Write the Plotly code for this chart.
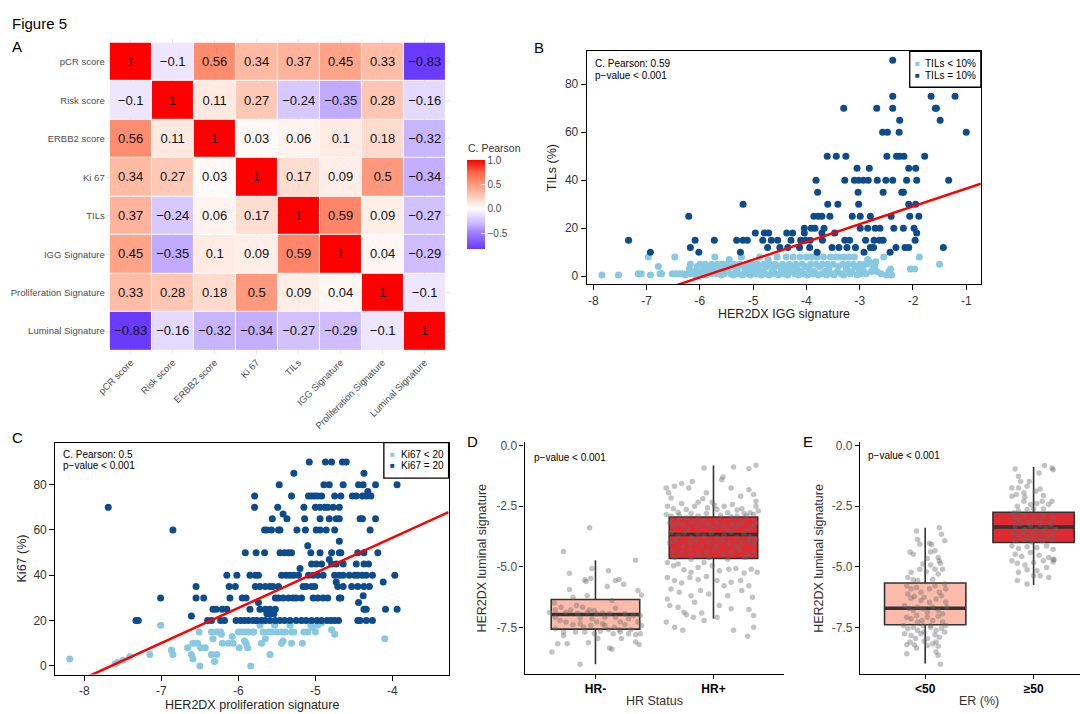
import plotly.graph_objects as go

W, H = 1080, 714

def fx(px):
    return px / W

def fy(py):
    return 1 - py / H

FONT = "Liberation Sans, Arial, sans-serif"

# A. correlation heatmap
variables = ["pCR score", "Risk score", "ERBB2 score", "Ki 67", "TILs",
             "IGG Signature", "Proliferation Signature", "Luminal Signature"]
corr = [
    [1, -0.1, 0.56, 0.34, 0.37, 0.45, 0.33, -0.83],
    [-0.1, 1, 0.11, 0.27, -0.24, -0.35, 0.28, -0.16],
    [0.56, 0.11, 1, 0.03, 0.06, 0.1, 0.18, -0.32],
    [0.34, 0.27, 0.03, 1, 0.17, 0.09, 0.5, -0.34],
    [0.37, -0.24, 0.06, 0.17, 1, 0.59, 0.09, -0.27],
    [0.45, -0.35, 0.1, 0.09, 0.59, 1, 0.04, -0.29],
    [0.33, 0.28, 0.18, 0.5, 0.09, 0.04, 1, -0.1],
    [-0.83, -0.16, -0.32, -0.34, -0.27, -0.29, -0.1, 1],
]
cbar_ticks = [-0.5, 0, 0.5, 1]
cbar_labels = ["\u22120.5", "0.0", "0.5", "1.0"]

# B. TILs vs IGG signature
tils_low = [(-7.84,0.5),(-7.53,0.5),(-7.16,1),(-7.1,1),(-6.97,8),(-6.93,0.5),(-6.78,4),(-6.75,1),(-6.72,1),(-6.52,1),
    (-6.47,8),(-6.45,1),(-6.38,1),(-6.32,1),(-6.28,0.5),(-6.22,1),(-6.2,3),(-6.18,5),(-6.15,1),(-6.1,2),(-6.08,0.5),
    (-6.05,4),(-6.02,1),(-6.0,5),(-5.97,2),(-5.95,1),(-5.92,3),(-5.9,5),(-5.88,0.5),(-5.85,2),(-5.82,4),(-5.8,1),
    (-5.78,5),(-5.75,3),(-5.72,8),(-5.7,1),(-5.68,5),(-5.65,2),(-5.62,4),(-5.6,0.5),(-5.58,5),(-5.55,1),(-5.52,3),
    (-5.5,5),(-5.48,2),(-5.45,7),(-5.42,1),(-5.4,4),(-5.38,0.5),(-5.35,5),(-5.32,2),(-5.3,3),(-5.28,1),(-5.25,5),
    (-5.22,8),(-5.2,0.5),(-5.18,4),(-5.15,2),(-5.12,5),(-5.1,1),(-5.08,3),(-5.05,0.5),(-5.02,5),(-5.0,2),(-4.98,4),
    (-4.95,1),(-4.92,5),(-4.9,3),(-4.88,8),(-4.85,0.5),(-4.82,2),(-4.8,5),(-4.78,1),(-4.75,4),(-4.72,7),(-4.7,0.5),
    (-4.68,5),(-4.65,2),(-4.62,3),(-4.6,1),(-4.58,5),(-4.55,8),(-4.52,0.5),(-4.5,4),(-4.48,2),(-4.45,5),(-4.42,1),
    (-4.4,3),(-4.38,8),(-4.35,0.5),(-4.32,5),(-4.3,2),(-4.28,4),(-4.25,8),(-4.22,1),(-4.2,5),(-4.18,3),(-4.15,0.5),
    (-4.12,8),(-4.1,2),(-4.08,5),(-4.05,1),(-4.02,4),(-4.0,8),(-3.98,0.5),(-3.95,3),(-3.92,5),(-3.9,8),(-3.88,1),
    (-3.85,2),(-3.82,5),(-3.8,8),(-3.78,0.5),(-3.75,4),(-3.72,1),(-3.7,5),(-3.68,8),(-3.65,2),(-3.62,0.5),(-3.6,5),
    (-3.58,3),(-3.55,8),(-3.52,1),(-3.5,5),(-3.48,0.5),(-3.45,8),(-3.42,2),(-3.4,4),(-3.38,8),(-3.35,1),(-3.32,5),
    (-3.3,0.5),(-3.28,8),(-3.25,3),(-3.22,5),(-3.2,8),(-3.18,1),(-3.15,2),(-3.12,5),(-3.1,8),(-3.08,4),(-3.05,0.5),
    (-3.02,3),(-3.0,5),(-2.98,1),(-2.95,4),(-2.92,2),(-2.9,5),(-2.88,1),(-2.85,7),(-2.82,6),(-2.8,5),(-2.78,2),
    (-2.75,5),(-2.72,4),(-2.7,6),(-2.68,2),(-2.6,1),(-2.55,8),(-2.5,0.5),(-2.45,2),(-2.42,3),(-2.4,0.5),(-2.05,3),
    (-1.97,3),(-1.88,8),(-1.5,5)]
tils_high = [(-7.34,15),(-6.93,10),(-6.21,25),(-6.18,12),(-6.09,15),(-6.02,10),(-5.73,15),(-5.24,10),(-5.31,15),
    (-5.19,30),(-5.19,15),(-5.11,15),(-4.96,18),(-4.82,15),(-4.79,18),(-4.71,18),(-4.73,12),(-4.66,15),(-4.54,15),
    (-4.50,12),(-4.37,18),(-4.29,15),(-4.26,18),(-4.35,12),(-4.13,12),(-4.11,15),(-4.04,20),(-4.04,18),(-4.02,15),
    (-3.94,12),(-3.93,15),(-3.91,20),(-3.86,25),(-3.84,20),(-3.82,40),(-3.79,35),(-3.78,25),(-3.80,10),(-3.71,25),
    (-3.71,18),(-3.70,15),(-3.67,20),(-3.60,30),(-3.61,50),(-3.56,25),(-3.52,12),(-3.47,18),(-3.44,50),(-3.41,30),
    (-3.39,12),(-3.30,70),(-3.28,40),(-3.28,15),(-3.26,50),(-3.24,12),(-3.19,15),(-3.14,25),(-3.08,12),(-3.10,40),
    (-3.05,45),(-3.03,35),(-3.02,30),(-3.02,40),(-2.99,25),(-2.99,20),(-2.93,40),(-2.92,10),(-2.89,15),(-2.85,20),
    (-2.84,40),(-2.82,45),(-2.80,25),(-2.80,12),(-2.74,12),(-2.73,15),(-2.68,70),(-2.67,40),(-2.71,20),(-2.63,15),
    (-2.62,20),(-2.56,35),(-2.57,60),(-2.56,15),(-2.51,40),(-2.49,50),(-2.48,60),(-2.43,10),(-2.41,25),(-2.38,90),
    (-2.38,75),(-2.38,70),(-2.38,40),(-2.36,20),(-2.32,12),(-2.31,50),(-2.26,60),(-2.25,65),(-2.25,50),(-2.21,35),
    (-2.18,35),(-2.18,20),(-2.17,50),(-2.12,40),(-2.15,12),(-2.08,45),(-2.08,30),(-2.06,25),(-2.08,12),(-1.98,20),
    (-1.95,45),(-1.95,30),(-1.93,40),(-1.93,18),(-1.89,25),(-1.78,50),(-1.66,75),(-1.58,70),(-1.56,70),(-1.49,65),
    (-1.43,12),(-1.33,40),(-1.21,75),(-1.00,60),(-1.96,15)]
fit_b = (43.9, 7.4)  # intercept, slope
b_xticks = [-8, -7, -6, -5, -4, -3, -2, -1]
b_yticks = [0, 20, 40, 60, 80]

# C. Ki67 vs proliferation signature
ki67_low = [(-8.19,3),(-7.60,1),(-7.57,1.5),(-7.50,2.5),(-7.41,4),(-7.15,5),(-7.01,18),(-6.87,7),(-6.85,5),(-6.66,8),
    (-6.61,5),(-6.59,3),(-6.51,15),(-6.59,10),(-6.53,10),(-6.50,0),(-6.49,8),(-6.43,8),(-6.35,5),(-6.31,2),(-6.28,5),
    (-6.33,12),(-6.35,15),(-6.28,15),(-6.23,15),(-6.21,10),(-6.13,10),(-6.07,10),(-6.22,14),(-6.08,13),(-5.99,8),
    (-6.00,15),(-5.96,15),(-5.91,15),(-5.87,15),(-5.82,15),(-5.92,11),(-5.90,10),(-5.88,8),(-5.84,0),(-5.80,15),
    (-5.72,18),(-5.70,10),(-5.68,15),(-5.61,15),(-5.57,15),(-5.65,12),(-5.59,5),(-5.53,18),(-5.50,15),(-5.44,15),
    (-5.39,15),(-5.44,10),(-5.42,11),(-5.33,18),(-5.31,15),(-5.28,15),(-5.31,10),(-5.17,10),(-5.15,15),(-5.10,15),
    (-5.06,18),(-5.04,17),(-5.00,15),(-4.97,18),(-4.92,19),(-4.79,16),(-4.75,14),(-4.10,12)]
ki67_high = [(-7.69,70),(-7.33,20),(-7.30,20),(-7.01,30),(-6.85,60),(-6.61,22),(-6.55,35),(-6.55,30),(-6.45,30),
    (-6.40,20),(-6.33,25),(-6.29,25),(-6.35,20),(-6.23,20),(-6.18,20),(-6.21,25),(-6.15,25),(-6.11,30),(-6.12,35),
    (-6.04,35),(-6.15,40),(-6.02,40),(-6.03,20),(-5.97,20),(-5.92,20),(-5.87,20),(-5.81,20),(-5.76,20),(-5.70,20),
    (-5.65,20),(-5.59,20),(-5.52,20),(-5.46,20),(-5.40,20),(-5.33,20),(-5.25,20),(-5.18,20),(-5.12,20),(-5.05,20),
    (-4.98,20),(-4.92,20),(-4.85,20),(-4.80,20),(-4.75,20),(-4.70,20),(-4.45,20),(-4.42,20),(-4.34,20),(-4.26,20),
    (-5.91,50),(-5.95,30),(-5.90,30),(-5.85,40),(-5.78,40),(-5.74,40),(-5.79,70),(-5.79,75),(-5.77,50),
    (-5.78,35),(-5.72,35),(-5.65,35),(-5.59,35),(-5.55,35),(-5.48,35),(-5.85,25),(-5.72,25),(-5.65,25),(-5.59,25),
    (-5.52,25),(-5.74,28),(-5.66,60),(-5.63,60),(-5.57,60),(-5.48,60),(-5.46,60),(-5.66,50),(-5.56,65),(-5.63,23),
    (-5.59,23),(-5.54,23),(-5.52,30),(-5.48,30),(-5.42,30),(-5.35,30),(-5.29,30),(-5.25,30),(-5.18,30),(-5.49,70),
    (-5.47,80),(-5.46,50),(-5.40,50),(-5.35,50),(-5.31,50),(-5.42,67),(-5.37,65),(-5.44,40),(-5.38,40),(-5.33,40),
    (-5.28,40),(-5.22,40),(-5.31,75),(-5.28,85),(-5.24,60),(-5.13,60),(-5.20,43),(-5.16,35),(-5.12,35),(-5.05,35),
    (-5.01,35),(-5.15,70),(-5.14,65),(-5.10,53),(-5.08,90),(-5.09,75),(-5.05,75),(-5.01,75),(-4.97,75),(-4.92,75),
    (-5.09,40),(-5.03,40),(-4.97,40),(-4.90,40),(-5.06,50),(-4.94,50),(-4.79,50),(-5.05,45),(-4.99,45),(-4.92,45),
    (-5.03,30),(-4.97,30),(-4.90,30),(-4.84,30),(-5.00,70),(-4.94,70),(-4.88,70),(-4.84,70),(-4.77,70),(-4.69,70),
    (-4.94,65),(-4.82,65),(-4.99,60),(-4.94,60),(-4.86,60),(-4.75,60),(-4.89,80),(-4.82,80),(-4.87,90),(-4.79,90),
    (-4.82,47),(-4.79,45),(-4.73,45),(-4.75,75),(-4.67,75),(-4.73,65),(-4.69,65),(-4.69,50),(-4.67,50),(-4.69,55),
    (-4.75,40),(-4.69,40),(-4.64,40),(-4.73,37),(-4.71,35),(-4.64,35),(-4.53,35),(-4.69,30),(-4.67,30),(-4.64,80),
    (-4.65,90),(-4.60,90),(-4.64,45),(-4.56,40),(-4.49,40),(-4.45,40),(-4.39,40),(-4.34,40),(-4.26,40),(-4.52,75),
    (-4.47,75),(-4.47,45),(-4.45,50),(-4.45,35),(-4.44,80),(-4.38,80),(-4.42,65),(-4.39,65),(-4.37,50),(-4.37,45),
    (-4.31,45),(-4.39,75),(-4.34,75),(-4.28,75),(-4.32,77),(-4.44,28),(-4.38,31),(-4.37,35),(-4.30,35),(-4.37,25),
    (-4.34,25),(-4.29,60),(-4.22,80),(-4.22,65),(-4.19,50),(-4.37,85),(-4.12,37),(-4.09,25),(-3.97,40),(-3.94,25),
    (-3.94,80)]
fit_c = (118.6, 15.5)
c_xticks = [-8, -7, -6, -5, -4]
c_yticks = [0, 20, 40, 60, 80]

# D. luminal signature by HR status (box stats + jittered points as (offset, value))
d_groups = ["HR-", "HR+"]
d_q1 = [-7.57, -4.66]
d_med = [-6.97, -3.67]
d_q3 = [-6.35, -2.95]
d_lo = [-9.02, -7.14]
d_hi = [-4.73, -0.82]
d_pts_neg = [(-0.05,-3.39),(-0.27,-4.37),(-0.22,-5.27),(-0.08,-5.61),(-0.04,-5.48),(-0.09,-5.53),(-0.03,-5.07),
    (-0.07,-6.19),(0.11,-5.16),(0.17,-5.57),(0.20,-5.52),(0.14,-6.39),(0.10,-5.81),(0.34,-4.73),(0.36,-5.98),
    (0.39,-6.16),(0.24,-5.72),(-0.22,-5.94),(-0.16,-6.60),(-0.19,-6.26),(-0.35,-6.49),(-0.34,-6.78),(-0.29,-6.67),
    (-0.25,-6.87),(-0.21,-6.78),(-0.15,-6.91),(-0.11,-6.67),(-0.07,-6.87),(-0.05,-6.78),(-0.01,-6.80),(0.01,-6.94),
    (0.06,-6.90),(0.08,-7.08),(0.12,-6.94),(0.17,-7.08),(0.21,-7.28),(0.25,-6.94),(0.28,-7.14),(0.32,-7.01),
    (0.36,-7.28),(0.38,-7.01),(0.39,-7.42),(-0.34,-7.08),(-0.30,-7.21),(-0.25,-7.28),(-0.19,-7.39),(-0.13,-7.35),
    (-0.10,-7.49),(-0.04,-7.42),(0.01,-7.28),(0.06,-7.35),(0.11,-7.58),(0.16,-7.49),(0.20,-7.58),(0.25,-7.39),
    (0.30,-7.58),(-0.34,-7.55),(-0.27,-7.69),(-0.17,-7.69),(-0.09,-7.69),(-0.01,-7.76),(0.04,-7.66),(0.15,-7.76),
    (0.21,-7.69),(0.28,-7.76),(0.34,-7.80),(0.38,-7.76),(-0.24,-8.17),(-0.32,-8.17),(-0.37,-8.51),(-0.06,-8.13),
    (0.12,-8.35),(0.14,-8.40),(0.34,-8.10),(0.37,-8.20),(-0.13,-9.02),(-0.27,-7.83),(0.02,-7.96),(0.22,-7.96),
    (0.17,-6.71),(0.08,-7.42),(-0.13,-7.12),(-0.39,-6.87),(-0.03,-7.14)]
d_pts_pos = [(-0.40,-1.75),(-0.38,-1.95),(-0.36,-2.16),(-0.33,-1.68),(-0.27,-1.57),(-0.21,-1.75),(-0.18,-1.48),
    (-0.08,-0.93),(-0.06,-1.95),(-0.01,-2.34),(0.08,-1.30),(0.07,-1.41),(0.15,-1.75),(0.17,-0.89),(0.23,-2.09),
    (0.30,-0.96),(0.36,-0.81),(0.30,-1.82),(0.34,-2.02),(0.36,-2.30),(-0.39,-2.50),(-0.34,-2.61),(-0.30,-2.75),
    (-0.27,-2.39),(-0.23,-2.64),(-0.16,-2.50),(-0.13,-2.34),(-0.09,-2.20),(-0.05,-2.57),(0.01,-2.47),(0.03,-2.64),
    (0.09,-2.50),(0.12,-2.77),(0.16,-2.43),(0.20,-2.66),(0.24,-2.61),(0.28,-2.91),(0.31,-2.77),(0.36,-2.50),
    (0.38,-2.70),(-0.40,-2.84),(-0.36,-2.91),(-0.29,-2.88),(-0.23,-2.98),(-0.19,-2.80),(-0.13,-2.91),(-0.06,-2.80),
    (0.06,-2.88),(0.15,-2.94),(0.20,-2.91),(0.26,-2.80),(0.34,-2.84),(-0.37,-3.18),(-0.34,-3.32),(-0.30,-3.18),
    (-0.26,-3.29),(-0.22,-3.46),(-0.18,-3.18),(-0.13,-3.32),(-0.09,-3.11),(-0.05,-3.25),(-0.01,-3.39),(0.03,-3.18),
    (0.08,-3.32),(0.12,-3.46),(0.16,-3.25),(0.20,-3.32),(0.24,-3.18),(0.29,-3.46),(0.33,-3.32),(0.36,-3.18),
    (-0.36,-3.59),(-0.30,-3.73),(-0.25,-3.62),(-0.19,-3.80),(-0.13,-3.66),(-0.08,-3.73),(-0.02,-3.62),(0.03,-3.80),
    (0.09,-3.70),(0.15,-3.57),(0.20,-3.80),(0.26,-3.66),(0.31,-3.76),(0.36,-3.87),(-0.37,-4.00),(-0.32,-3.93),
    (-0.26,-4.14),(-0.20,-4.03),(-0.15,-3.93),(-0.10,-4.14),(-0.04,-4.00),(0.02,-4.11),(0.08,-3.93),(0.13,-4.07),
    (0.19,-4.17),(0.24,-4.00),(0.30,-3.93),(0.34,-4.07),(-0.34,-4.34),(-0.27,-4.41),(-0.20,-4.30),(-0.13,-4.48),
    (-0.06,-4.39),(0.01,-4.28),(0.08,-4.48),(0.15,-4.39),(0.22,-4.30),(0.29,-4.48),(0.34,-4.39),(-0.33,-4.62),
    (-0.19,-4.69),(-0.04,-4.62),(0.12,-4.69),(0.27,-4.62),(-0.39,-4.82),(-0.34,-4.96),(-0.30,-4.89),(-0.25,-5.12),
    (-0.19,-5.23),(-0.13,-5.03),(-0.08,-4.82),(-0.01,-4.96),(0.05,-5.16),(0.13,-5.10),(0.19,-5.07),(0.26,-5.26),
    (0.32,-5.10),(0.37,-5.23),(-0.39,-5.44),(-0.33,-5.57),(-0.27,-5.67),(-0.20,-5.44),(-0.13,-5.53),(-0.06,-5.40),
    (0.03,-5.57),(0.09,-5.78),(0.15,-5.64),(0.23,-5.57),(0.30,-5.78),(-0.36,-5.92),(-0.29,-6.05),(-0.19,-6.19),
    (-0.11,-5.98),(-0.04,-6.12),(0.12,-6.19),(0.24,-5.98),(0.33,-6.26),(-0.39,-6.33),(-0.37,-6.60),(-0.30,-6.67),
    (-0.25,-6.87),(-0.16,-6.46),(-0.10,-6.90),(0.05,-6.60),(0.15,-6.73),(0.30,-6.76),(0.34,-7.01),(-0.40,-7.28),
    (-0.33,-7.49),(-0.26,-7.62),(-0.08,-7.21),(0.03,-7.08),(0.17,-7.62),(0.29,-7.86),(0.34,-7.49),(-0.23,-6.98),
    (-0.17,-7.08)]

# E. luminal signature by ER %
e_groups = ["<50", "\u226550"]
e_q1 = [-7.39, -4.00]
e_med = [-6.71, -3.36]
e_q3 = [-5.67, -2.75]
e_lo = [-8.99, -5.75]
e_hi = [-3.39, -0.89]
e_pts_low = [(-0.08,-3.52),(-0.07,-3.87),(-0.05,-4.07),(0.13,-3.39),(0.15,-3.66),(0.18,-3.93),(0.04,-4.03),
    (0.06,-4.08),(-0.14,-4.39),(-0.11,-4.48),(0.05,-4.39),(0.09,-4.34),(0.12,-4.62),(0.13,-4.75),(0.02,-4.66),
    (0.14,-4.85),(-0.02,-4.89),(-0.05,-5.10),(-0.13,-5.23),(-0.16,-5.44),(-0.11,-5.53),(-0.07,-5.57),(0.01,-5.20),
    (0.05,-4.93),(0.09,-5.10),(0.16,-5.10),(0.12,-5.30),(0.07,-5.51),(0.18,-5.71),(-0.17,-5.78),(-0.13,-5.92),
    (-0.08,-5.85),(-0.04,-6.05),(0.04,-5.92),(0.09,-5.78),(0.13,-6.05),(0.19,-5.92),(-0.16,-6.12),(-0.13,-6.30),
    (-0.10,-6.22),(-0.04,-6.39),(-0.01,-6.26),(0.04,-6.46),(0.10,-6.33),(0.15,-6.19),(0.19,-6.46),(-0.19,-6.60),
    (-0.15,-6.71),(-0.11,-6.80),(-0.07,-6.67),(-0.02,-6.73),(0.02,-6.87),(0.07,-6.67),(0.12,-6.80),(0.16,-6.94),
    (0.20,-6.67),(-0.17,-7.08),(-0.13,-7.14),(-0.08,-7.01),(-0.03,-7.21),(0.02,-7.08),(0.07,-7.21),(0.12,-7.04),
    (0.16,-7.28),(-0.20,-7.42),(-0.16,-7.55),(-0.11,-7.49),(-0.07,-7.62),(-0.01,-7.69),(0.05,-7.49),(0.10,-7.62),
    (0.15,-7.53),(0.19,-7.42),(-0.19,-7.76),(-0.13,-7.83),(-0.09,-7.96),(-0.04,-7.76),(0.02,-7.96),(0.09,-7.80),
    (0.13,-7.90),(0.18,-7.69),(-0.14,-8.10),(-0.10,-8.21),(0.02,-8.24),(0.07,-8.17),(0.10,-8.10),(0.12,-8.28),
    (-0.17,-8.21),(-0.17,-8.58),(-0.08,-8.35),(0.10,-8.51),(0.12,-8.65),(-0.01,-8.07),(0.14,-9.02),(-0.07,-7.28),
    (0.05,-7.42),(-0.02,-7.42)]
e_pts_high = [(-0.17,-0.97),(-0.14,-1.27),(-0.12,-1.48),(-0.06,-1.68),(-0.14,-1.75),(-0.20,-1.75),(-0.09,-1.95),
    (-0.16,-2.02),(-0.20,-2.09),(-0.08,-2.12),(0.02,-1.89),(0.06,-1.79),(0.09,-2.06),(0.17,-0.93),(0.18,-1.00),
    (0.05,-1.13),(0.10,-0.82),(-0.04,-1.48),(-0.09,-2.30),(-0.15,-2.50),(-0.03,-2.43),(0.03,-2.39),(0.09,-2.61),
    (0.14,-2.43),(0.17,-2.30),(-0.18,-2.77),(-0.14,-2.70),(0.00,-2.61),(0.08,-2.30),(-0.06,-2.64),(-0.18,-2.98),
    (-0.14,-3.07),(-0.09,-2.91),(-0.05,-3.18),(0.00,-3.02),(0.05,-3.11),(0.09,-2.94),(0.15,-3.16),(0.18,-2.98),
    (-0.17,-3.32),(-0.12,-3.25),(-0.08,-3.46),(-0.03,-3.32),(0.02,-3.48),(0.06,-3.29),(0.11,-3.39),(0.16,-3.32),
    (0.20,-3.46),(-0.19,-3.59),(-0.15,-3.70),(-0.10,-3.62),(-0.05,-3.80),(-0.01,-3.66),(0.03,-3.84),(0.08,-3.59),
    (0.12,-3.76),(0.18,-3.66),(-0.17,-3.93),(-0.09,-3.87),(-0.02,-3.98),(0.08,-3.93),(0.17,-3.89),(-0.20,-4.14),
    (-0.14,-4.25),(-0.06,-4.17),(0.03,-4.21),(0.12,-4.14),(0.18,-4.28),(-0.17,-4.48),(-0.11,-4.58),(-0.03,-4.41),
    (0.05,-4.52),(0.14,-4.62),(0.18,-4.69),(-0.20,-4.75),(-0.15,-4.85),(-0.08,-4.93),(0.00,-4.82),(0.09,-4.75),
    (0.18,-4.80),(0.19,-4.71),(-0.14,-5.23),(-0.06,-5.12),(0.03,-5.16),(0.12,-5.03),(-0.15,-5.57),(-0.06,-5.71),
    (0.06,-5.37),(0.14,-5.44),(0.00,-5.37)]
lum_yticks = [0, -2.5, -5, -7.5]
lum_ylabels = ["0.0", "-2.5", "-5.0", "-7.5"]

LIGHT = "#87C9E2"
DARK = "#0C4C8C"
BOX_FILL = ["#FCBBAA", "#DF2A31"]
BOX_LINE = "#333333"

fig = go.Figure()

# --- A heatmap
cell_text = [[("%g" % v).replace("-", "\u2212") for v in row] for row in corr]
fig.add_trace(go.Heatmap(
    z=corr, x=list(range(8)), y=list(range(8)), text=cell_text, texttemplate="%{text}",
    textfont=dict(size=13, color="#111111"), xgap=1, ygap=1, zmin=-0.83, zmax=1,
    colorscale=[[0, "#6A3BFF"], [0.18, "#9F7DFF"], [0.29, "#CDBBFF"], [0.399, "#EEE6FF"],
                [0.4536, "#FFFFFF"], [0.508, "#FFEBE4"], [0.6175, "#FFC2AE"], [0.7268, "#FF987C"],
                [0.8634, "#FF6446"], [1, "#FF0000"]],
    colorbar=dict(x=fx(461.4), xanchor="left", y=fy(202), yanchor="middle", len=89.4, lenmode="pixels",
                  thickness=18, outlinewidth=0, xpad=0, ypad=0, tickvals=cbar_ticks, ticktext=cbar_labels,
                  ticks="inside", tickcolor="white", ticklen=4, tickfont=dict(size=10, color="#4D4D4D")),
    hoverinfo="skip"))

# --- B scatter
fig.add_trace(go.Scatter(x=[p[0] for p in tils_low], y=[p[1] for p in tils_low], mode="markers",
                         marker=dict(color=LIGHT, size=7), xaxis="x2", yaxis="y2", showlegend=False))
fig.add_trace(go.Scatter(x=[p[0] for p in tils_high], y=[p[1] for p in tils_high], mode="markers",
                         marker=dict(color=DARK, size=7), xaxis="x2", yaxis="y2", showlegend=False))
bx = [-8.123, -0.726]
fig.add_trace(go.Scatter(x=bx, y=[fit_b[0] + fit_b[1] * v for v in bx], mode="lines",
                         line=dict(color="#FF0000", width=2.5), xaxis="x2", yaxis="y2", showlegend=False))

# --- C scatter
fig.add_trace(go.Scatter(x=[p[0] for p in ki67_low], y=[p[1] for p in ki67_low], mode="markers",
                         marker=dict(color=LIGHT, size=7), xaxis="x3", yaxis="y3", showlegend=False))
fig.add_trace(go.Scatter(x=[p[0] for p in ki67_high], y=[p[1] for p in ki67_high], mode="markers",
                         marker=dict(color=DARK, size=7), xaxis="x3", yaxis="y3", showlegend=False))
cx = [-8.377, -3.271]
fig.add_trace(go.Scatter(x=cx, y=[fit_c[0] + fit_c[1] * v for v in cx], mode="lines",
                         line=dict(color="#FF0000", width=2.5), xaxis="x3", yaxis="y3", showlegend=False))

# --- D and E boxplots
def add_boxes(q1, med, q3, lo, hi, pts, xa, ya):
    for i in range(2):
        pos = i + 1
        fig.add_trace(go.Box(x=[pos], q1=[q1[i]], median=[med[i]], q3=[q3[i]], lowerfence=[lo[i]],
                             upperfence=[hi[i]], width=0.75, fillcolor=BOX_FILL[i],
                             line=dict(color=BOX_LINE, width=1.6), whiskerwidth=0, boxpoints=False,
                             xaxis=xa, yaxis=ya, hoverinfo="skip", showlegend=False))
        fig.add_trace(go.Scatter(x=[pos - 0.375, pos + 0.375], y=[med[i], med[i]], mode="lines",
                                 line=dict(color=BOX_LINE, width=3.5), xaxis=xa, yaxis=ya, showlegend=False))
        fig.add_trace(go.Scatter(x=[pos + p[0] for p in pts[i]], y=[p[1] for p in pts[i]], mode="markers",
                                 marker=dict(color="rgba(105,105,105,0.4)", size=5.5), xaxis=xa, yaxis=ya,
                                 showlegend=False))

add_boxes(d_q1, d_med, d_q3, d_lo, d_hi, [d_pts_neg, d_pts_pos], "x4", "y4")
add_boxes(e_q1, e_med, e_q3, e_lo, e_hi, [e_pts_low, e_pts_high], "x5", "y5")

# --- axes
tf = dict(size=12, color="#333333")
heat_ax = dict(tickvals=list(range(8)), ticktext=variables, showgrid=True, gridcolor="#EBEBEB", gridwidth=1,
               zeroline=False, ticks="", tickfont=dict(size=9.5, color="#4D4D4D"))
box_ax = dict(showline=True, mirror=True, linecolor="black", linewidth=1.3, ticks="outside", ticklen=5,
              tickcolor="black", showgrid=False, zeroline=False, tickfont=tf)
cls_x = dict(showline=True, linecolor="black", linewidth=1.4, ticks="outside", ticklen=4, tickcolor="black",
             showgrid=False, zeroline=False, tickvals=[1, 2], tickfont=dict(size=12, color="black"))
cls_y = dict(showline=True, linecolor="black", linewidth=1.4, ticks="outside", ticklen=4, tickcolor="black",
             showgrid=False, zeroline=False, tickvals=lum_yticks, ticktext=lum_ylabels,
             tickfont=dict(size=12, color="#4D4D4D"))

fig.update_layout(
    width=W, height=H, margin=dict(l=0, r=0, t=0, b=0), paper_bgcolor="white", plot_bgcolor="white",
    font=dict(family=FONT, color="black"),
    xaxis=dict(heat_ax, domain=[fx(97.5), fx(444.3)], range=[-0.6, 7.6], tickangle=-45),
    yaxis=dict(heat_ax, domain=[fy(352.2), fy(35.1)], range=[7.6, -0.6]),
    xaxis2=dict(box_ax, domain=[fx(582.7), fx(980)], range=bx, anchor="y2", tickvals=b_xticks,
                ticktext=[str(v) for v in b_xticks]),
    yaxis2=dict(box_ax, domain=[fy(281.7), fy(47.7)], range=[-3.3, 93.7], anchor="x2", tickvals=b_yticks),
    xaxis3=dict(box_ax, domain=[fx(46.7), fx(443.3)], range=cx, anchor="y3", tickvals=c_xticks,
                ticktext=[str(v) for v in c_xticks]),
    yaxis3=dict(box_ax, domain=[fy(674.3), fy(441)], range=[-3.8, 98.6], anchor="x3", tickvals=c_yticks),
    xaxis4=dict(cls_x, domain=[fx(520), fx(781.8)], range=[0.4, 2.6], anchor="y4",
                ticktext=["<b>%s</b>" % g for g in d_groups]),
    yaxis4=dict(cls_y, domain=[fy(673.3), fy(440.7)], range=[-9.4, 0.135], anchor="x4"),
    xaxis5=dict(cls_x, domain=[fx(858.3), 1], range=[0.4, 2.428], anchor="y5",
                ticktext=["<b>%s</b>" % g for g in e_groups]),
    yaxis5=dict(cls_y, domain=[fy(673.3), fy(440.7)], range=[-9.4, 0.135], anchor="x5"),
)

# --- legends drawn by hand (small boxes like base R)
shapes = []
annotations = []

def ann(px, py, text, size=11, color="black", xanchor="left", angle=0):
    annotations.append(dict(x=fx(px), y=fy(py), xref="paper", yref="paper", text=text, showarrow=False,
                            xanchor=xanchor, yanchor="middle", textangle=angle,
                            font=dict(size=size, color=color, family=FONT)))

def legend_box(x0, y0, x1, y1, keyx, textx, rows, labels):
    shapes.append(dict(type="rect", xref="paper", yref="paper", x0=fx(x0), x1=fx(x1), y0=fy(y1), y1=fy(y0),
                       line=dict(color="black", width=1.3), fillcolor="white", layer="above"))
    for (ry, lab, col) in zip(rows, labels, [LIGHT, DARK]):
        ann(keyx, ry, "\u25A0", size=8, color=col, xanchor="center")
        ann(textx, ry, lab, size=10)

legend_box(908.3, 47.7, 980, 83.7, 916.5, 922, [60, 72.3], ["TILs < 10%", "TILs = 10%"])
legend_box(378, 441, 443.3, 476.7, 387, 393, [452.7, 464.3], ["Ki67 < 20", "Ki67 = 20"])

# panel letters and headings
ann(1, 19.3, "Figure 5", size=15)
ann(8, 42.7, "A", size=15, xanchor="center")
ann(534, 43.3, "B", size=15, xanchor="center")
ann(9, 436, "C", size=15, xanchor="center")
ann(467.5, 440, "D", size=15, xanchor="center")
ann(806, 440, "E", size=15, xanchor="center")
ann(460.5, 144.7, "C. Pearson", size=10.5, color="#333333")

# stats text
ann(589, 60, "C. Pearson: 0.59", size=10)
ann(589, 72.3, "p\u2212value < 0.001", size=10)
ann(52.5, 453.3, "C. Pearson: 0.5", size=10)
ann(52.5, 464.3, "p\u2212value < 0.001", size=10)
ann(527.5, 456, "p\u2212value < 0.001", size=10)
ann(864, 454, "p\u2212value < 0.001", size=10)

# axis titles
ann(781.4, 311.7, "HER2DX IGG signature", size=12.5, color="#222222", xanchor="center")
ann(547, 164.7, "TILs (%)", size=12.5, color="#222222", xanchor="center", angle=-90)
ann(245, 705, "HER2DX proliferation signature", size=12.5, color="#222222", xanchor="center")
ann(13, 557.7, "Ki67 (%)", size=12.5, color="#222222", xanchor="center", angle=-90)
ann(651, 701, "HR Status", size=12.5, color="#333333", xanchor="center")
ann(476.7, 557, "HER2DX luminal signature", size=12.5, color="#333333", xanchor="center", angle=-90)
ann(978.5, 701, "ER (%)", size=12.5, color="#333333", xanchor="center")
ann(816.7, 557, "HER2DX luminal signature", size=12.5, color="#333333", xanchor="center", angle=-90)

fig.update_layout(shapes=shapes, annotations=annotations)

# page body has a default 8px margin; drop it so the figure sits at the corner
fig.write_html("out.html", config={"displayModeBar": False},
               post_script="document.body.style.margin='0';")
